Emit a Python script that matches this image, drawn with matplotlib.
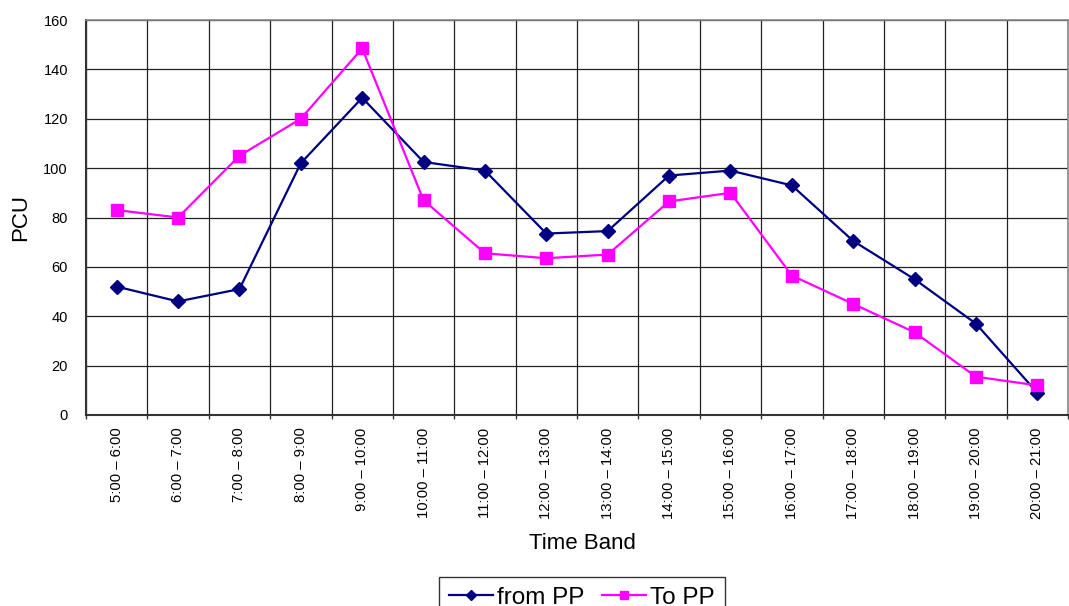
import matplotlib
matplotlib.use("Agg")
import matplotlib.pyplot as plt
import numpy as np

categories = ["5:00 – 6:00", "6:00 – 7:00", "7:00 – 8:00", "8:00 – 9:00", "9:00 – 10:00",
              "10:00 – 11:00", "11:00 – 12:00", "12:00 – 13:00", "13:00 – 14:00",
              "14:00 – 15:00", "15:00 – 16:00", "16:00 – 17:00", "17:00 – 18:00",
              "18:00 – 19:00", "19:00 – 20:00", "20:00 – 21:00"]
from_pp = [52, 46, 51, 102, 128.5, 102.5, 99, 73.5, 74.5, 97, 99, 93, 70.5, 55, 37, 9]
to_pp = [83, 80, 105, 120, 148.5, 87, 65.5, 63.5, 65, 86.5, 90, 56.5, 45, 33.5, 15.5, 12]
y_ticks = [0, 20, 40, 60, 80, 100, 120, 140, 160]

plt.rcParams['font.family'] = ['Liberation Sans', 'DejaVu Sans']

fig = plt.figure(figsize=(10.69, 6.06), dpi=100)
ax = fig.add_axes([86/1069, 1 - 415/606, (1068 - 86)/1069, (415 - 20)/606])

x = np.arange(len(categories))
ax.plot(x, from_pp, color='#000080', marker='D', markersize=7, linewidth=1.6, label='from PP', zorder=3)
ax.plot(x, to_pp, color='#FF00FF', marker='s', markersize=9, linewidth=1.6, label='To PP', zorder=3)

ax.set_xlim(-0.5, len(categories) - 0.5)
ax.set_ylim(0, 160)
ax.set_yticks(y_ticks)
ax.set_xticks(x)
ax.set_xticklabels(categories, rotation=90, fontsize=10.7)
ax.set_xticks(np.arange(-0.5, len(categories), 1.0), minor=True)
ax.tick_params(axis='x', which='major', length=0, pad=9)
ax.tick_params(axis='x', which='minor', length=3, width=1, color='#333333')
ax.tick_params(axis='y', which='major', length=0, labelsize=10.5, pad=13)
ax.grid(True, which='minor', axis='x', color='#222222', linewidth=0.9)
ax.grid(True, which='major', axis='y', color='#222222', linewidth=0.9)
ax.set_axisbelow(True)
for s in ['left', 'bottom']:
    ax.spines[s].set_color('#333333')
    ax.spines[s].set_linewidth(1.5)
for s in ['top', 'right']:
    ax.spines[s].set_color('#888888')
    ax.spines[s].set_linewidth(1.2)

ax.set_ylabel('PCU', fontsize=16, labelpad=9)
ax.set_xlabel('Time Band', fontsize=16)
ax.xaxis.set_label_coords(0.5056, -0.298)

leg = fig.legend(loc='upper center', bbox_to_anchor=(582/1069, 1 - 577/606), ncol=2,
                 fontsize=17.5, frameon=True, fancybox=False, edgecolor='black',
                 handlelength=1.8, handletextpad=0.2, columnspacing=0.7,
                 borderpad=0.4, borderaxespad=0, markerscale=0.7)
leg.get_frame().set_linewidth(1.0)

fig.savefig('out.png', dpi=100)
